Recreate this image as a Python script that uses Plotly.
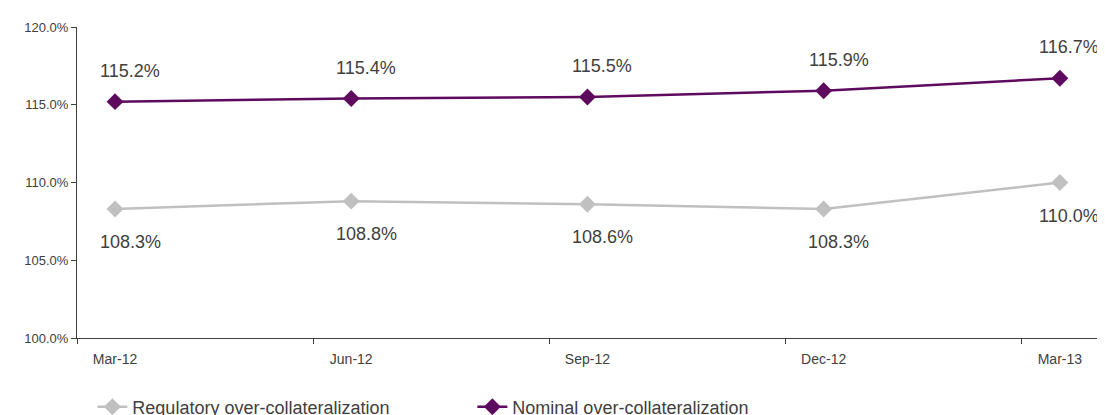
import plotly.graph_objects as go

categories = ["Mar-12", "Jun-12", "Sep-12", "Dec-12", "Mar-13"]
regulatory = [108.3, 108.8, 108.6, 108.3, 110.0]
nominal = [115.2, 115.4, 115.5, 115.9, 116.7]
y_ticks = [100, 105, 110, 115, 120]

xpos = list(range(len(categories)))
GRAY = "#c0c0c0"
PURPLE = "#5e0a5e"
TXT = "#404040"
FONT = "Liberation Sans, Arial, sans-serif"
label_xshift = [15, 15, 15, 15, 9]

fig = go.Figure()
fig.add_trace(go.Scatter(
    x=xpos, y=regulatory, mode="lines+markers", name="Regulatory over-collateralization",
    line=dict(color=GRAY, width=2.5), marker=dict(symbol="diamond", size=13, color=GRAY)))
fig.add_trace(go.Scatter(
    x=xpos, y=nominal, mode="lines+markers", name="Nominal over-collateralization",
    line=dict(color=PURPLE, width=2.5), marker=dict(symbol="diamond", size=13, color=PURPLE)))

for xi, v, xs in zip(xpos, nominal, label_xshift):
    fig.add_annotation(x=xi, y=v, text=f"{v:.1f}%", showarrow=False, xshift=xs, yshift=31,
                       font=dict(size=18, color=TXT, family=FONT))
for xi, v, xs in zip(xpos, regulatory, label_xshift):
    fig.add_annotation(x=xi, y=v, text=f"{v:.1f}%", showarrow=False, xshift=xs, yshift=-33,
                       font=dict(size=18, color=TXT, family=FONT))

fig.update_layout(
    width=1097, height=407,
    margin=dict(l=69, r=5, t=19, b=77, autoexpand=False),
    paper_bgcolor="white", plot_bgcolor="white",
    font=dict(family=FONT, color=TXT, size=12),
    showlegend=True,
    legend=dict(orientation="h", x=0.015, xanchor="left", y=-0.222, yanchor="middle",
                font=dict(size=18, color=TXT, family=FONT), entrywidth=335,
                bgcolor="rgba(0,0,0,0)"),
)
fig.update_xaxes(
    type="linear", range=[-0.161, 4.17], tickvals=xpos, ticktext=categories,
    showgrid=False, zeroline=False, showline=True, linecolor="#404040", linewidth=1,
    ticks="", ticklabelstandoff=8, tickfont=dict(size=14, color=TXT),
    minor=dict(tick0=-0.161, dtick=1, ticks="outside", ticklen=5, tickcolor="#404040", showgrid=False),
)
fig.update_yaxes(
    range=[100, 120], tickvals=y_ticks, ticktext=[f"{t:.1f}%" for t in y_ticks],
    showgrid=False, zeroline=False, showline=True, linecolor="#404040", linewidth=1,
    ticks="outside", ticklen=5, tickcolor="#404040", tickfont=dict(size=13, color=TXT),
)

fig.write_html("out.html")
